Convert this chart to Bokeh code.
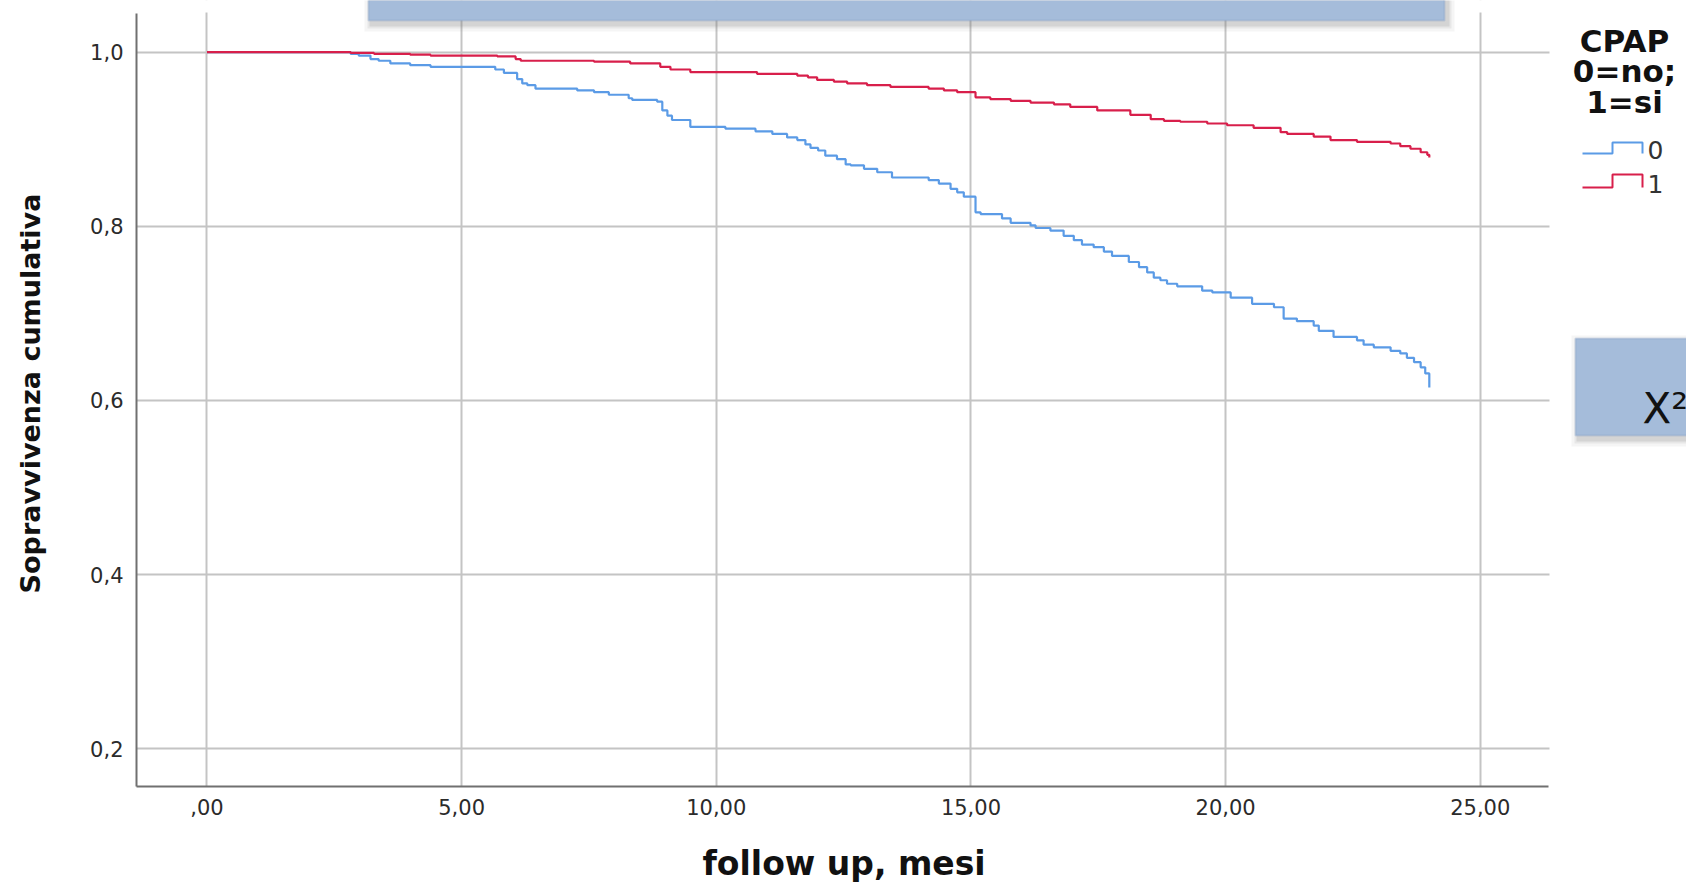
from bokeh.plotting import figure
from bokeh.models import Range1d, FixedTicker, Label, BoxAnnotation, PolyAnnotation, Title
from bokeh.embed import file_html
from bokeh.resources import INLINE

# ---- data ----
# CPAP = 0 (no)
t_no = [0.0, 2.82, 2.98, 3.21, 3.37, 3.60, 3.99, 4.39, 5.66, 5.83, 6.09, 6.19, 6.29, 6.45,
        7.27, 7.60, 7.89, 8.28, 8.35, 8.84, 8.94, 9.04, 9.13, 9.49, 10.18, 10.77, 11.10,
        11.39, 11.59, 11.75, 11.85, 12.00, 12.14, 12.37, 12.54, 12.64, 12.90, 13.16, 13.45,
        14.17, 14.37, 14.60, 14.73, 14.86, 15.09, 15.19, 15.61, 15.78, 16.17, 16.27, 16.56,
        16.82, 17.02, 17.18, 17.41, 17.61, 17.77, 18.10, 18.30, 18.46, 18.59, 18.72, 18.85,
        19.05, 19.54, 19.74, 20.10, 20.52, 20.95, 21.14, 21.40, 21.73, 21.83, 22.12, 22.58,
        22.71, 22.91, 23.24, 23.43, 23.56, 23.70, 23.83, 23.92, 24.00]
s_no = [1.000, 0.998, 0.996, 0.992, 0.990, 0.987, 0.985, 0.983, 0.980, 0.976, 0.969, 0.964, 0.962, 0.958,
        0.956, 0.954, 0.951, 0.947, 0.945, 0.943, 0.933, 0.927, 0.922, 0.914, 0.912, 0.909, 0.906,
        0.902, 0.899, 0.894, 0.890, 0.887, 0.881, 0.877, 0.871, 0.870, 0.866, 0.862, 0.856,
        0.853, 0.849, 0.843, 0.839, 0.834, 0.816, 0.814, 0.809, 0.804, 0.801, 0.798, 0.795,
        0.789, 0.784, 0.779, 0.776, 0.771, 0.766, 0.759, 0.753, 0.747, 0.741, 0.738, 0.734,
        0.731, 0.726, 0.724, 0.718, 0.711, 0.707, 0.694, 0.691, 0.686, 0.680, 0.673, 0.669,
        0.664, 0.661, 0.657, 0.654, 0.649, 0.644, 0.638, 0.631, 0.615]

# CPAP = 1 (si)
t_si = [0.0, 2.82, 3.28, 3.99, 4.39, 5.70, 6.06, 6.16, 7.60, 8.31, 8.90, 9.10, 9.49, 10.80,
        11.59, 11.80, 11.98, 12.31, 12.57, 12.96, 13.42, 14.17, 14.47, 14.73, 15.09, 15.38,
        15.78, 16.17, 16.63, 16.95, 17.48, 18.13, 18.53, 18.79, 19.11, 19.64, 20.03, 20.55,
        21.08, 21.21, 21.73, 22.06, 22.58, 23.24, 23.43, 23.63, 23.83, 23.96, 24.00]
s_si = [1.000, 0.999, 0.998, 0.997, 0.996, 0.995, 0.992, 0.990, 0.989, 0.987, 0.983, 0.980, 0.977, 0.975,
        0.973, 0.971, 0.968, 0.966, 0.964, 0.962, 0.960, 0.958, 0.956, 0.954, 0.948, 0.946,
        0.944, 0.942, 0.940, 0.937, 0.933, 0.928, 0.923, 0.921, 0.920, 0.918, 0.916, 0.913,
        0.908, 0.906, 0.903, 0.899, 0.897, 0.895, 0.892, 0.889, 0.885, 0.882, 0.879]

x_ticks = [0, 5, 10, 15, 20, 25]
x_tick_labels = [",00", "5,00", "10,00", "15,00", "20,00", "25,00"]
y_ticks = [0.2, 0.4, 0.6, 0.8, 1.0]
y_tick_labels = ["0,2", "0,4", "0,6", "0,8", "1,0"]

group_labels = ["0", "1"]
colors = ["#5b9be6", "#d81f4b"]
x_title = "follow up, mesi"
y_title = "Sopravvivenza cumulativa"
legend_title = ["CPAP", "0=no;", "1=si"]
stat_text = "Χ²"

FONT = "DejaVu Sans"

# axis extents (the plotted area)
X_LO, X_HI = -1.384, 26.34
Y_LO, Y_HI = 0.1568, 1.0443

p = figure(width=1686, height=884, output_backend="svg", toolbar_location=None,
           x_range=Range1d(X_LO, 29.05), y_range=Range1d(Y_LO, 1.0592),
           min_border_left=136, min_border_right=0, min_border_top=0, min_border_bottom=98)
p.outline_line_color = None
p.background_fill_color = "white"
p.border_fill_color = "white"

# axes
for ax in (p.xaxis, p.yaxis):
    ax.axis_line_color = "#707070"
    ax.axis_line_width = 2
    ax.major_tick_line_color = None
    ax.minor_tick_line_color = None
    ax.major_tick_out = 0
    ax.major_tick_in = 0
    ax.major_label_text_font = FONT
    ax.major_label_text_font_size = "21px"
    ax.major_label_text_color = "#2b2b2b"
    ax.axis_label_text_font = FONT
    ax.axis_label_text_font_style = "bold"
    ax.axis_label_text_color = "#111111"

p.xaxis.bounds = (X_LO, X_HI)
p.yaxis.bounds = (Y_LO, Y_HI)
p.xaxis.ticker = FixedTicker(ticks=x_ticks)
p.xaxis.major_label_overrides = dict(zip(x_ticks, x_tick_labels))
p.xaxis.major_label_standoff = 12
p.yaxis.ticker = FixedTicker(ticks=y_ticks)
p.yaxis.major_label_overrides = dict(zip(y_ticks, y_tick_labels))
p.yaxis.major_label_standoff = 13
p.yaxis.axis_label = y_title
p.yaxis.axis_label_text_font_size = "27px"
p.yaxis.axis_label_standoff = 41

# x-axis title, centred under the plotted region (a thin spacer pushes it down)
p.add_layout(Title(text=" ", text_font_size="1px", standoff=23, text_color="white"), "below")
p.add_layout(Title(text=x_title, align="left", offset=566, standoff=0,
                   vertical_align="top", text_font=FONT, text_font_style="bold",
                   text_font_size="33px", text_color="#111111"), "below")

p.xgrid.ticker = FixedTicker(ticks=x_ticks)
p.ygrid.ticker = FixedTicker(ticks=y_ticks)
for g in (p.xgrid, p.ygrid):
    g.grid_line_color = "#c4c4c4"
    g.grid_line_width = 2

# curves
p.step(t_no, s_no, mode="after", line_color=colors[0], line_width=2.2)
p.step(t_si, s_si, mode="after", line_color=colors[1], line_width=2.2)


def canvas_box(l, r, t, b, **kw):
    p.add_layout(BoxAnnotation(left=l, right=r, top=t, bottom=b,
                               left_units="canvas", right_units="canvas",
                               top_units="canvas", bottom_units="canvas",
                               level="overlay", **kw))


# blank the area outside the plotted region (right margin and top strip)
canvas_box(1549, 1700, -10, 800, fill_color="white", fill_alpha=1.0, line_color=None)
canvas_box(130, 1700, -10, 12, fill_color="white", fill_alpha=1.0, line_color=None)

# legend title
for txt, yb in zip(legend_title, [40, 70, 101]):
    p.add_layout(Label(x=1624, y=yb, x_units="canvas", y_units="canvas", text=txt,
                       text_font=FONT, text_font_style="bold", text_font_size="31px",
                       text_align="center", text_baseline="alphabetic", text_color="#111111",
                       level="overlay"))

# legend entries (step symbols)
for lab, col, low, high in zip(group_labels, colors, [153, 187], [142, 174]):
    xs = [1582, 1612, 1612, 1642, 1642, 1642, 1612, 1612]
    ys = [low, low, high, high, low, high, high, low]
    p.add_layout(PolyAnnotation(xs=xs, ys=ys, xs_units="canvas", ys_units="canvas",
                                fill_color=None, fill_alpha=0, line_color=col, line_alpha=1.0,
                                line_width=2, level="overlay"))
    p.add_layout(Label(x=1647, y=low - 4, x_units="canvas", y_units="canvas", text=lab,
                       text_font=FONT, text_font_size="25px", text_align="left",
                       text_baseline="alphabetic", text_color="#333333", level="overlay"))


# decorative slide boxes (overlays from the original slide)
def slide_box(l, r, t, b):
    for off, a in [(7, 0.08), (4, 0.12), (2, 0.18)]:
        canvas_box(l - off + 3, r + off + 3, t - off + 4, b + off + 4,
                   fill_color="#808080", fill_alpha=a, line_color=None)
    canvas_box(l, r, t, b, fill_color="#a5bcda", fill_alpha=1.0,
               line_color="#7f9dc4", line_width=2)


slide_box(368, 1444, -40, 20)
slide_box(1575, 1720, 338, 435)
p.add_layout(Label(x=1642, y=408, x_units="canvas", y_units="canvas", text=stat_text,
                   text_font=FONT, text_font_size="42px", text_align="left",
                   text_baseline="alphabetic", text_color="#111111", level="overlay"))

open("out.html", "w").write(file_html(p, INLINE))
